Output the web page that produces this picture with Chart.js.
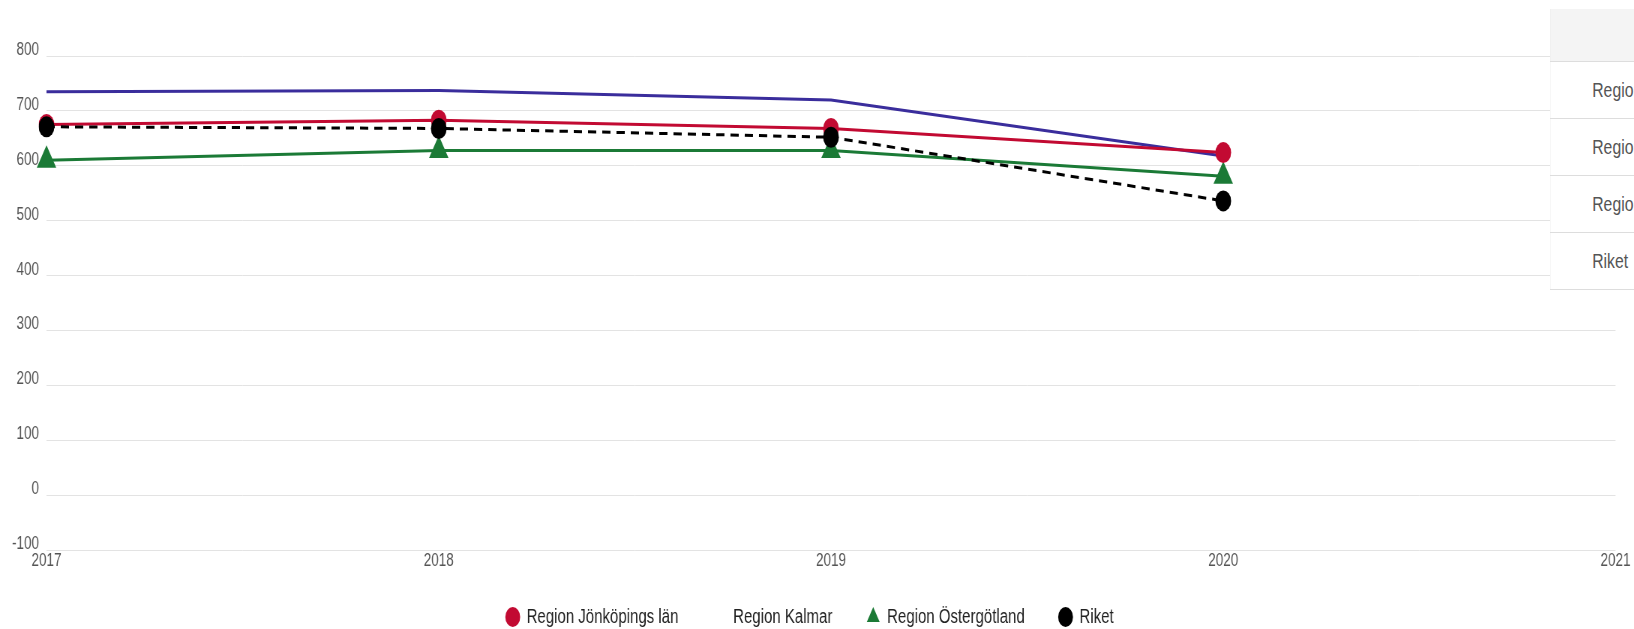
<!DOCTYPE html>
<html>
<head>
<meta charset="utf-8">
<script src="https://cdn.jsdelivr.net/npm/chart.js@4.4.1/dist/chart.umd.min.js"></script>
<style>
  html, body { margin: 0; padding: 0; background: #fff; overflow: hidden; }
  /* the picture is drawn wide and squeezed to 75% horizontally */
  #wrap { position: relative; width: 2179px; height: 629px; transform: scaleX(0.75); transform-origin: 0 0; }
  #side {
    position: absolute; left: 2066px; top: 9px; width: 400px;
    border-collapse: collapse; background: #fff;
    font-family: "Liberation Sans", Arial, sans-serif;
    font-size: 21px; color: #555;
  }
  #side td { border-left: 1px solid #ddd; border-bottom: 1px solid #ddd; padding: 0 0 0 56px; height: 56px; white-space: nowrap; }
  #side tr.head td { background: #f4f4f4; height: 52px; }
</style>
</head>
<body>
<div id="wrap">
  <canvas id="lineChart"></canvas>
  <table id="side">
    <tr class="head"><td></td></tr>
    <tr><td>Region Jönköpings län</td></tr>
    <tr><td>Region Kalmar</td></tr>
    <tr><td>Region Östergötland</td></tr>
    <tr><td>Riket</td></tr>
  </table>
</div>
<script>
// === Data ===
const years = ["2017", "2018", "2019", "2020", "2021"];
const jonkoping = [675, 683, 668, 624];
const kalmar = [735, 737, 720, 618];
const ostergotland = [610, 628, 628, 581];
const riket = [671, 668, 652, 536];

const FONT = '"Liberation Sans", Arial, sans-serif';

// x labels sit in the gap above the legend, so let them draw past the axis box
const labelRoom = {
  id: "labelRoom",
  afterLayout(chart) {
    chart.scales.x.bottom = chart.height;
  },
};

// === Chart ===
const ctx = document.getElementById("lineChart").getContext("2d");
new Chart(ctx, {
  type: "line",
  plugins: [labelRoom],
  data: {
    labels: years,
    datasets: [
      {
        label: "Region Jönköpings län",
        data: jonkoping,
        borderColor: "#c20a32",
        backgroundColor: "#c20a32",
        borderWidth: 3,
        pointStyle: "circle",
        pointRadius: 10.5,
        pointBorderWidth: 0,
        order: 1,
      },
      {
        label: "Region Kalmar",
        data: kalmar,
        borderColor: "#3a2d9c",
        backgroundColor: "#3a2d9c",
        borderWidth: 3,
        pointRadius: 0,
        order: 3,
      },
      {
        label: "Region Östergötland",
        data: ostergotland,
        borderColor: "#1b7a36",
        backgroundColor: "#1b7a36",
        borderWidth: 3,
        pointStyle: "triangle",
        pointRadius: 15,
        pointBorderWidth: 0,
        order: 2,
      },
      {
        label: "Riket",
        data: riket,
        borderColor: "#000",
        backgroundColor: "#000",
        borderWidth: 3,
        borderDash: [11, 8],
        pointStyle: "circle",
        pointRadius: 10.5,
        pointBorderWidth: 0,
        order: 0,
      },
    ],
  },
  options: {
    responsive: true,
    maintainAspectRatio: false,
    animation: false,
    layout: { padding: { top: 56, left: 6, right: 25, bottom: -8 } },
    elements: { line: { tension: 0 } },
    scales: {
      x: {
        offset: false,
        grid: { display: false, drawTicks: false },
        border: { display: false },
        ticks: { color: "#555", font: { family: FONT, size: 18 }, padding: 0, maxRotation: 0 },
        afterFit: (scale) => { scale.height = 11; },
      },
      y: {
        min: -100,
        max: 800,
        grid: { color: "#e3e3e3", drawTicks: false },
        border: { display: false },
        ticks: { stepSize: 100, color: "#555", font: { family: FONT, size: 18 }, padding: 10, labelOffset: -6 },
      },
    },
    plugins: {
      tooltip: { enabled: false },
      legend: {
        position: "bottom",
        labels: {
          usePointStyle: true,
          boxWidth: 17,
          boxHeight: 14,
          padding: 46,
          color: "#222",
          font: { family: FONT, size: 20 },
          sort: (a, b) => a.datasetIndex - b.datasetIndex,
          generateLabels: (chart) => {
            const items = Chart.defaults.plugins.legend.labels.generateLabels(chart);
            items.forEach((it) => {
              it.lineWidth = 0;
              it.lineDash = [];
              if (it.text === "Region Kalmar") {
                it.fillStyle = "rgba(0,0,0,0)";
                it.strokeStyle = "rgba(0,0,0,0)";
              }
            });
            return items;
          },
        },
      },
    },
  },
});
</script>
</body>
</html>
